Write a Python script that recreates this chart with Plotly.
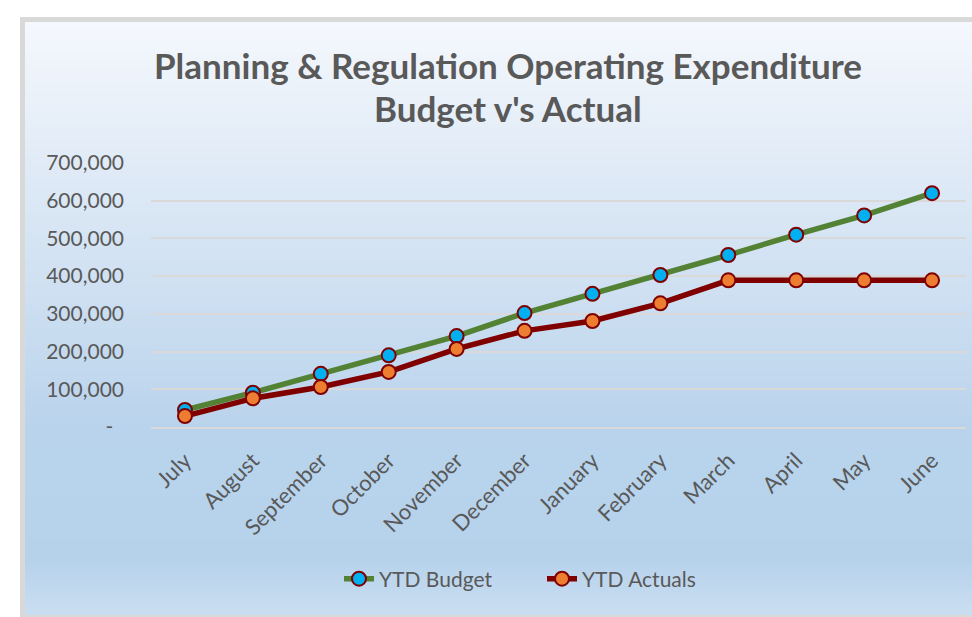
import plotly.graph_objects as go

# Monthly year-to-date figures
months = ["July", "August", "September", "October", "November", "December",
          "January", "February", "March", "April", "May", "June"]
ytd_budget = [45000, 91000, 141000, 190000, 241000, 302000,
              353000, 403000, 456000, 510000, 561000, 620000]
ytd_actuals = [29000, 76000, 106000, 146000, 207000, 255000,
               281000, 328000, 389000, 389000, 389000, 389000]

y_ticks = [0, 100000, 200000, 300000, 400000, 500000, 600000, 700000]
y_tick_text = ["-\u00a0\u00a0", "100,000", "200,000", "300,000",
               "400,000", "500,000", "600,000", "700,000"]

W, H = 972, 617
FONT = "Lato"
TEXT = "#595959"


def px_x(x):
    return x / W


def px_y(y):
    return 1 - y / H


def hexmix(c1, c2, t):
    return "#" + "".join(f"{round(a + (b - a) * t):02x}" for a, b in zip(c1, c2))


# vertical gradient stops for the chart background (pixel y, rgb)
stops = [(22, (245, 248, 253)), (150, (226, 236, 247)), (300, (205, 223, 241)),
         (430, (185, 211, 236)), (560, (182, 210, 235)), (615, (202, 222, 241))]

shapes = [dict(type="rect", xref="paper", yref="paper", layer="below",
               x0=px_x(20), x1=1.0, y0=0, y1=px_y(17),
               fillcolor="#d9d9d9", line=dict(width=0))]
step = 3
y = 22
while y < 615:
    y2 = min(y + step, 615)
    mid = (y + y2) / 2
    for (a, ca), (b, cb) in zip(stops[:-1], stops[1:]):
        if a <= mid <= b:
            col = hexmix(ca, cb, (mid - a) / (b - a))
            break
    shapes.append(dict(type="rect", xref="paper", yref="paper", layer="below",
                       x0=px_x(25), x1=1.0, y0=px_y(y2), y1=px_y(y),
                       fillcolor=col, line=dict(width=0)))
    y = y2

fig = go.Figure()
fig.add_trace(go.Scatter(
    x=months, y=ytd_budget, name="YTD Budget", mode="lines+markers",
    line=dict(color="#548235", width=5.5),
    marker=dict(size=14, color="#00b0f0", line=dict(color="#7f0000", width=2)),
))
fig.add_trace(go.Scatter(
    x=months, y=ytd_actuals, name="YTD Actuals", mode="lines+markers",
    line=dict(color="#800000", width=5.5),
    marker=dict(size=14, color="#ed7d31", line=dict(color="#7f0000", width=2)),
))

fig.update_layout(
    width=W, height=H,
    margin=dict(l=0, r=0, t=0, b=0, pad=0, autoexpand=False),
    paper_bgcolor="white",
    plot_bgcolor="#f2f2f2",
    font=dict(family=FONT, color=TEXT, size=21),
    shapes=shapes,
    showlegend=True,
    legend=dict(orientation="h", x=px_x(339), xanchor="left",
                y=px_y(579), yanchor="middle",
                bgcolor="rgba(0,0,0,0)", font=dict(size=21, color=TEXT),
                entrywidth=158, entrywidthmode="pixels", tracegroupgap=0),
    annotations=[
        dict(text="<b>Planning & Regulation Operating Expenditure</b>",
             xref="paper", yref="paper", x=px_x(508), y=px_y(65),
             xanchor="center", yanchor="middle", showarrow=False,
             font=dict(size=35, color=TEXT, family=FONT)),
        dict(text="<b>Budget v's Actual</b>",
             xref="paper", yref="paper", x=px_x(508), y=px_y(108),
             xanchor="center", yanchor="middle", showarrow=False,
             font=dict(size=35, color=TEXT, family=FONT)),
    ],
    xaxis=dict(
        domain=[px_x(151), px_x(966)],
        range=[-0.5, 11.5],
        type="category",
        automargin=False,
        showgrid=False, zeroline=False,
        showline=True, linecolor="#d9d9d9", linewidth=2,
        tickangle=-45, ticks="", ticklabelstandoff=10,
        tickfont=dict(size=22, color=TEXT, family=FONT),
        fixedrange=True,
    ),
    yaxis=dict(
        domain=[px_y(427), px_y(163)],
        range=[0, 700000],
        automargin=False,
        tickvals=y_ticks, ticktext=y_tick_text,
        showgrid=True, gridcolor="#d9d9d9", gridwidth=2,
        zeroline=False, showline=False,
        ticks="", ticklabelstandoff=26,
        tickfont=dict(size=21, color=TEXT, family=FONT),
        fixedrange=True,
    ),
)

fig.write_html("out.html")
